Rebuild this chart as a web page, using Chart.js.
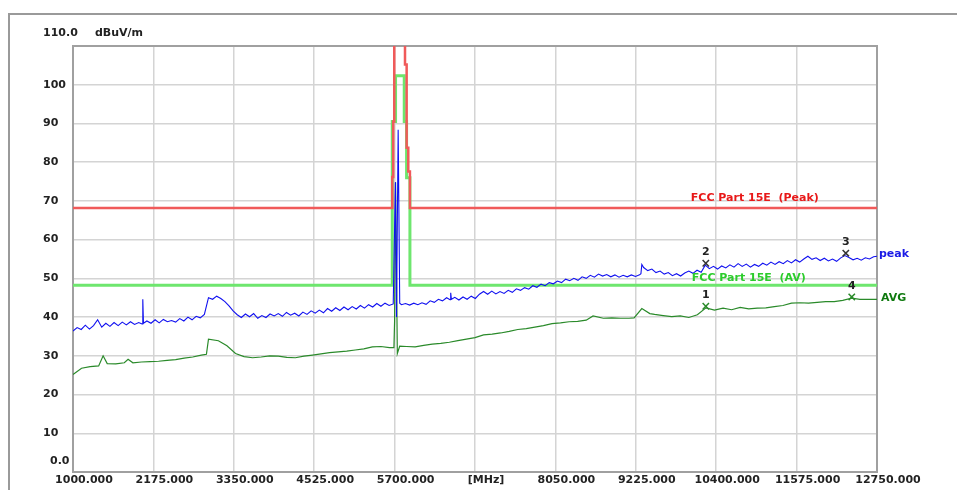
<!DOCTYPE html>
<html>
<head>
<meta charset="utf-8">
<script src="https://cdn.jsdelivr.net/npm/chart.js@4.4.1/dist/chart.umd.min.js"></script>
<style>
  body { margin: 0; background: #fff; }
  #wrap { position: relative; width: 957px; height: 490px; overflow: hidden; }
  #marco { position: absolute; left: 8px; top: 13px; width: 960px; height: 490px;
           border-left: 2px solid #9a9a9a; border-top: 2px solid #9a9a9a; }
  canvas { position: absolute; left: 0; top: 0; }
</style>
</head>
<body>
<div id="wrap">
  <div id="marco"></div>
  <canvas id="grafica" width="957" height="490"></canvas>
</div>
<script>
// ejes
const xTicks = [1000, 2175, 3350, 4525, 5700, 6875, 8050, 9225, 10400, 11575, 12750];
const xTickLabels = ["1000.000", "2175.000", "3350.000", "4525.000", "5700.000", "[MHz]",
  "8050.000", "9225.000", "10400.000", "11575.000", "12750.000"];
const yTicks = [0, 10, 20, 30, 40, 50, 60, 70, 80, 90, 100, 110];

// traza peak (azul)
const peakFreq = [
  1000,1060,1120,1180,1240,1300,1360,1420,1480,1540,
  1600,1660,1720,1780,1840,1900,1960,2010,2020,2030,2080,2140,
  2200,2260,2320,2380,2440,2500,2560,2620,2680,2740,
  2800,2860,2920,2980,3040,3100,3160,3220,3280,3340,
  3400,3460,3520,3580,3640,3700,3760,3820,3880,3940,
  4000,4060,4120,4180,4240,4300,4360,4420,4480,4540,
  4600,4660,4720,4780,4840,4900,4960,5020,5080,5140,
  5200,5260,5320,5380,5440,5500,5560,5620,5680,5712,5728,5752,5775,
  5800,5860,5920,5980,6040,6100,6160,6220,6280,6340,
  6400,6460,6510,6520,6530,6580,6640,6700,6760,6820,6880,6940,
  7000,7060,7120,7180,7240,7300,7360,7420,7480,7540,
  7600,7660,7720,7780,7840,7900,7960,8020,8080,8140,
  8200,8260,8320,8380,8440,8500,8560,8620,8680,8740,
  8800,8860,8920,8980,9040,9100,9160,9220,9280,9300,9313,9340,
  9400,9460,9520,9580,9640,9700,9760,9820,9880,9940,
  10000,10060,10120,10180,10240,10300,10360,10420,10480,10540,
  10600,10660,10720,10780,10840,10900,10960,11020,11080,11140,
  11200,11260,11320,11380,11440,11500,11560,11620,11680,11740,
  11800,11860,11920,11980,12040,12100,12160,12220,12280,12340,
  12400,12460,12520,12580,12640,12700,12750];
const peakLevel = [
  36.4,37.3,36.8,37.9,36.9,37.8,39.3,37.4,38.4,37.6,
  38.6,37.8,38.7,38.0,38.8,38.1,38.6,38.2,44.6,38.4,39.0,38.4,
  39.3,38.5,39.4,38.8,39.1,38.7,39.6,39.0,40.0,39.3,
  40.2,39.8,40.7,45.0,44.6,45.4,44.8,44.0,42.9,41.6,
  40.6,39.9,40.8,40.1,40.9,39.7,40.4,39.9,40.8,40.3,
  40.9,40.2,41.2,40.5,41.0,40.3,41.3,40.7,41.6,41.0,
  41.8,41.1,42.2,41.5,42.4,41.7,42.6,41.9,42.7,42.1,
  43.0,42.3,43.2,42.6,43.5,42.8,43.6,43.0,43.4,74.8,40.0,88.4,43.6,
  43.2,43.5,43.1,43.6,43.2,43.7,43.3,44.2,43.8,44.6,
  44.2,45.0,44.5,46.3,44.6,45.1,44.4,45.2,44.6,45.4,44.8,45.9,
  46.6,45.9,46.7,46.0,46.6,46.1,46.9,46.4,47.3,46.9,
  47.6,47.2,48.1,47.7,48.5,48.1,48.9,48.6,49.3,48.9,
  49.8,49.4,50.0,49.5,50.4,50.0,50.8,50.3,51.1,50.6,
  51.0,50.4,50.9,50.3,50.8,50.4,50.9,50.5,50.9,51.2,53.6,52.8,
  52.0,52.4,51.5,51.9,51.1,51.5,50.7,51.2,50.6,51.4,
  51.9,51.3,52.1,51.6,53.4,52.5,53.1,52.4,53.2,52.7,
  53.5,52.9,53.8,53.1,53.7,52.9,53.6,53.1,53.9,53.4,
  54.2,53.6,54.3,53.8,54.6,54.0,54.8,54.2,55.0,55.7,
  54.9,55.3,54.6,55.2,54.5,55.0,54.4,55.3,55.9,55.4,
  54.8,55.2,54.7,55.3,55.0,55.6,55.7];

// traza AVG (verde oscuro)
const avgFreq = [1000,1125,1250,1375,1440,1500,1625,1750,1805,1875,2000,2125,2250,2375,2500,2625,2750,2875,2950,2980,
  3125,3250,3375,3500,3625,3750,3875,4000,4125,4250,4375,4500,4625,4750,4875,5000,5125,5250,5375,5500,
  5625,5690,5700,5714,5740,5775,5875,6000,6125,6250,6375,6500,6625,6750,6875,7000,7125,7250,7375,7500,
  7625,7750,7875,8000,8125,8250,8375,8500,8600,8750,8875,9000,9125,9200,9313,9430,9500,9625,9750,9875,
  10000,10125,10250,10375,10500,10625,10750,10875,11000,11125,11250,11375,11500,11625,11750,11875,12000,12125,12250,12381,
  12500,12625,12750];
const avgLevel = [25.2,26.8,27.2,27.4,30.0,28.0,27.9,28.2,29.1,28.2,28.4,28.5,28.6,28.8,29.0,29.4,29.7,30.2,30.4,34.3,
  33.9,32.6,30.6,29.8,29.5,29.7,30.0,29.9,29.6,29.5,29.9,30.2,30.5,30.8,31.0,31.2,31.5,31.8,32.3,32.4,
  32.1,32.1,39.0,74.8,30.6,32.5,32.4,32.3,32.7,33.0,33.2,33.5,33.9,34.3,34.7,35.4,35.6,35.9,36.3,36.8,
  37.0,37.4,37.8,38.3,38.5,38.8,38.9,39.2,40.3,39.7,39.8,39.7,39.7,39.8,42.2,40.9,40.7,40.4,40.1,40.3,
  39.9,40.6,42.4,41.8,42.3,41.9,42.5,42.1,42.3,42.4,42.7,43.0,43.6,43.7,43.6,43.8,44.0,44.0,44.3,44.9,
  44.6,44.6,44.6];

// limites FCC Part 15E
const limPeakFreq = [1000, 5666, 5666, 5680, 5680, 5695, 5695, 5852, 5852, 5876, 5876, 5900, 5900, 5924, 5924, 12750];
const limPeakLevel = [68.2, 68.2, 76.2, 76.2, 90.5, 90.5, 122, 122, 105.2, 105.2, 83.7, 83.7, 77.6, 77.6, 68.2, 68.2];
const limAvFreq = [1000, 5666, 5666, 5714, 5714, 5841, 5841, 5875, 5875, 5924, 5924, 12750];
const limAvLevel = [48.2, 48.2, 90.5, 90.5, 102.3, 102.3, 90.5, 90.5, 76.0, 76.0, 48.2, 48.2];

// marcadores
const markerName = ["1", "2", "3", "4"];
const markerFreq = [10248, 10248, 12294, 12381];
const markerLevel = [42.8, 53.9, 56.5, 45.2];

const fuente = 'bold 11px "DejaVu Sans"';

function puntos(fs, vs) {
  return fs.map((f, i) => ({ x: f, y: vs[i] }));
}

// marco del area y textos sobre la grafica
const textos = {
  id: "textos",
  beforeDatasetsDraw(chart) {
    const { ctx, chartArea: a } = chart;
    ctx.save();
    ctx.strokeStyle = "#a0a0a0";
    ctx.lineWidth = 2;
    ctx.strokeRect(a.left, a.top, a.right - a.left, a.bottom - a.top);
    ctx.restore();
  },
  afterDatasetsDraw(chart) {
    const { ctx, chartArea: a, scales } = chart;
    const x = scales.x, y = scales.y;
    ctx.save();
    ctx.font = fuente;
    ctx.textBaseline = "middle";
    ctx.textAlign = "left";

    ctx.fillStyle = "#e81818";
    ctx.fillText("FCC Part 15E  (Peak)", x.getPixelForValue(10029), y.getPixelForValue(70.7));
    ctx.fillStyle = "#2ccc2c";
    ctx.fillText("FCC Part 15E  (AV)", x.getPixelForValue(10044), y.getPixelForValue(50.1));
    ctx.fillStyle = "#1a1ae6";
    ctx.fillText("peak", a.right + 2, y.getPixelForValue(56.2));
    ctx.fillStyle = "#107a10";
    ctx.fillText("AVG", a.right + 4, y.getPixelForValue(45.0));

    // numeros de marcadores
    ctx.fillStyle = "#222";
    ctx.textAlign = "center";
    markerName.forEach((n, i) => {
      ctx.fillText(n, x.getPixelForValue(markerFreq[i]), y.getPixelForValue(markerLevel[i]) - 11);
    });

    // etiquetas del eje y en los extremos
    ctx.textAlign = "left";
    ctx.fillText("110.0", 43, a.top - 13);
    ctx.fillText("dBuV/m", 95, a.top - 13);
    ctx.fillText("0.0", 50, a.bottom - 11);
    ctx.restore();
  }
};

new Chart(document.getElementById("grafica"), {
  type: "line",
  data: {
    datasets: [
      {
        type: "scatter",
        data: puntos(markerFreq, markerLevel),
        pointStyle: "crossRot",
        pointRadius: 4.5,
        borderWidth: 1.5,
        pointBorderColor: ["#2a8a2a", "#333333", "#333333", "#2a8a2a"],
        showLine: false
      },
      { data: puntos(peakFreq, peakLevel), borderColor: "#1010f0", borderWidth: 1.1 },
      { data: puntos(avgFreq, avgLevel), borderColor: "#2a8a2a", borderWidth: 1.2 },
      { data: puntos(limPeakFreq, limPeakLevel), borderColor: "#f05a5a", borderWidth: 2.5 },
      { data: puntos(limAvFreq, limAvLevel), borderColor: "#6ee66e", borderWidth: 3 }
    ]
  },
  options: {
    responsive: false,
    animation: false,
    devicePixelRatio: 1,
    layout: { padding: { left: 43, top: 46, right: 80, bottom: 0 } },
    elements: { point: { radius: 0 }, line: { tension: 0, fill: false } },
    plugins: { legend: { display: false }, tooltip: { enabled: false } },
    scales: {
      x: {
        type: "linear",
        min: 1000,
        max: 12750,
        afterBuildTicks: (s) => { s.ticks = xTicks.map((v) => ({ value: v })); },
        afterFit: (s) => { s.height = 18; },
        grid: { color: "#d4d4d4", lineWidth: 1.5, drawTicks: false },
        border: { color: "#a0a0a0", width: 2 },
        ticks: {
          autoSkip: false,
          maxRotation: 0,
          minRotation: 0,
          padding: 2,
          labelOffset: 11,
          color: "#222",
          font: { family: "DejaVu Sans", size: 11, weight: "bold" },
          callback: (v, i) => xTickLabels[i]
        }
      },
      y: {
        min: 0,
        max: 110,
        afterBuildTicks: (s) => { s.ticks = yTicks.map((v) => ({ value: v })); },
        afterFit: (s) => { s.width = 30; },
        grid: { color: "#d4d4d4", lineWidth: 1.5, drawTicks: false },
        border: { color: "#a0a0a0", width: 2 },
        ticks: {
          crossAlign: "far",
          color: "#222",
          font: { family: "DejaVu Sans", size: 11, weight: "bold" },
          callback: (v) => (v === 0 || v === 110 ? "" : v)
        }
      }
    }
  },
  plugins: [textos]
});
</script>
</body>
</html>
